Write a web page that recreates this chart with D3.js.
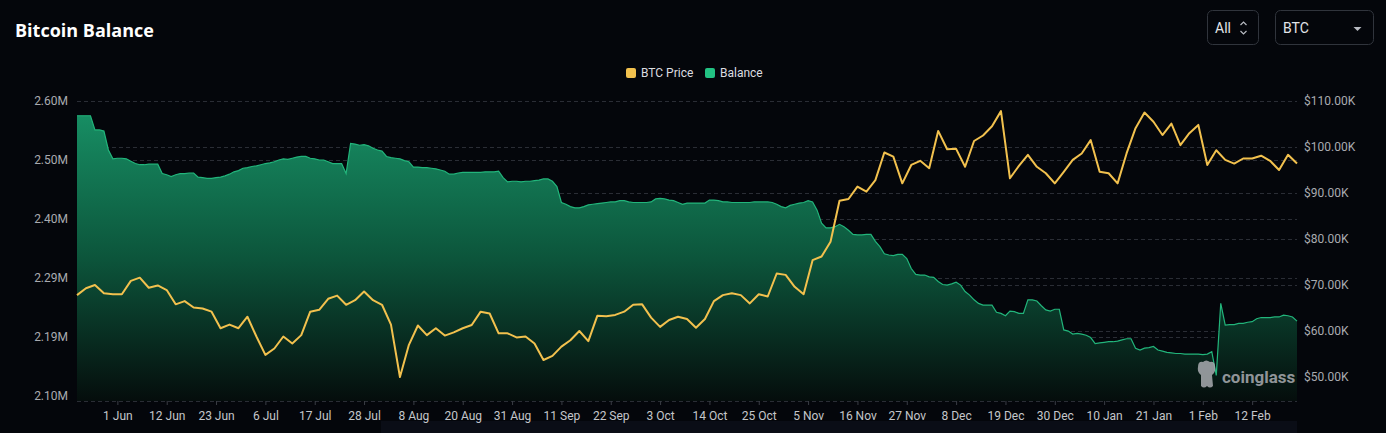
<!DOCTYPE html>
<html>
<head>
<meta charset="utf-8">
<script src="https://cdn.jsdelivr.net/npm/d3@7/dist/d3.min.js"></script>
<style>
  html, body { margin: 0; padding: 0; background: #04060b; }
  svg { display: block; }
</style>
</head>
<body>
<svg id="chart" width="1386" height="433"></svg>
<script>
// category labels on the x axis, one every 11 points, first at point 9
var axisLabels = ['1 Jun', '12 Jun', '23 Jun', '6 Jul', '17 Jul', '28 Jul', '8 Aug', '20 Aug',
  '31 Aug', '11 Sep', '22 Sep', '3 Oct', '14 Oct', '25 Oct', '5 Nov', '16 Nov', '27 Nov',
  '8 Dec', '19 Dec', '30 Dec', '10 Jan', '21 Jan', '1 Feb', '12 Feb'];
var firstLabelPoint = 9;
var labelEvery = 11;

var leftTickLabels = ['2.10M', '2.19M', '2.29M', '2.40M', '2.50M', '2.60M'];
var rightTickValues = [50, 60, 70, 80, 90, 100, 110];

// exchange balance, millions of BTC, one value per point
var balanceValues = [
  2.575, 2.575, 2.575, 2.575, 2.551, 2.551, 2.549, 2.517, 2.502, 2.503,
  2.503, 2.502, 2.498, 2.494, 2.492, 2.492, 2.493, 2.493, 2.493, 2.477,
  2.475, 2.472, 2.475, 2.477, 2.477, 2.478, 2.478, 2.471, 2.470, 2.469,
  2.469, 2.470, 2.471, 2.473, 2.476, 2.480, 2.482, 2.486, 2.487, 2.489,
  2.490, 2.492, 2.494, 2.495, 2.497, 2.500, 2.502, 2.501, 2.503, 2.505,
  2.506, 2.506, 2.503, 2.502, 2.500, 2.500, 2.497, 2.494, 2.494, 2.494,
  2.477, 2.528, 2.527, 2.525, 2.526, 2.524, 2.520, 2.517, 2.515, 2.506,
  2.504, 2.503, 2.502, 2.499, 2.497, 2.488, 2.488, 2.487, 2.487, 2.486,
  2.485, 2.483, 2.481, 2.476, 2.476, 2.478, 2.479, 2.479, 2.479, 2.479,
  2.479, 2.480, 2.480, 2.480, 2.481, 2.470, 2.463, 2.464, 2.464, 2.463,
  2.464, 2.464, 2.465, 2.466, 2.468, 2.468, 2.464, 2.455, 2.428, 2.425,
  2.421, 2.419, 2.419, 2.421, 2.424, 2.425, 2.426, 2.427, 2.428, 2.429,
  2.429, 2.431, 2.431, 2.429, 2.428, 2.428, 2.428, 2.428, 2.429, 2.434,
  2.435, 2.434, 2.432, 2.431, 2.428, 2.425, 2.427, 2.427, 2.427, 2.427,
  2.427, 2.432, 2.432, 2.431, 2.429, 2.429, 2.428, 2.428, 2.428, 2.428,
  2.428, 2.429, 2.429, 2.429, 2.429, 2.428, 2.425, 2.421, 2.419, 2.423,
  2.425, 2.427, 2.428, 2.431, 2.429, 2.415, 2.393, 2.385, 2.385, 2.387,
  2.391, 2.387, 2.381, 2.374, 2.373, 2.373, 2.374, 2.374, 2.362, 2.353,
  2.341, 2.339, 2.338, 2.340, 2.340, 2.333, 2.316, 2.306, 2.305, 2.305,
  2.302, 2.301, 2.294, 2.289, 2.288, 2.290, 2.293, 2.288, 2.277, 2.271,
  2.263, 2.257, 2.254, 2.254, 2.254, 2.242, 2.240, 2.236, 2.244, 2.243,
  2.240, 2.240, 2.263, 2.263, 2.261, 2.253, 2.246, 2.244, 2.247, 2.247,
  2.212, 2.210, 2.205, 2.206, 2.205, 2.203, 2.199, 2.189, 2.190, 2.191,
  2.192, 2.192, 2.193, 2.195, 2.197, 2.197, 2.181, 2.178, 2.181, 2.182,
  2.184, 2.178, 2.176, 2.174, 2.173, 2.172, 2.172, 2.171, 2.171, 2.171,
  2.171, 2.170, 2.171, 2.175, 2.135, 2.257, 2.220, 2.221, 2.221, 2.223,
  2.223, 2.225, 2.226, 2.231, 2.233, 2.233, 2.233, 2.234, 2.234, 2.237,
  2.236, 2.234, 2.227
];

// BTC price, thousands of USD, one value every 2 points
var priceStep = 2;
var priceValues = [
  67.8, 69.3, 70.0, 68.2, 68.0, 68.0, 70.9, 71.6, 69.4, 69.9,
  68.9, 65.8, 66.5, 65.1, 64.9, 64.2, 60.6, 61.4, 60.6, 63.1,
  58.8, 54.8, 56.2, 58.8, 57.3, 59.1, 64.2, 64.6, 67.0, 67.7,
  65.7, 66.7, 68.6, 66.7, 65.7, 61.4, 50.0, 57.0, 61.2, 59.1,
  60.6, 59.0, 59.7, 60.6, 61.3, 64.2, 63.8, 59.5, 59.5, 58.6,
  58.8, 57.3, 53.7, 54.6, 56.6, 58.0, 60.0, 57.8, 63.3, 63.2,
  63.5, 64.2, 65.7, 65.8, 62.9, 60.9, 62.4, 63.1, 62.6, 60.7,
  62.6, 66.5, 67.8, 68.2, 67.8, 66.0, 68.0, 67.5, 72.5, 72.2,
  69.6, 68.0, 75.4, 76.2, 79.4, 88.3, 88.7, 91.4, 90.3, 92.8,
  98.8, 97.9, 92.1, 96.1, 97.0, 95.4, 103.5, 99.5, 99.6, 95.7,
  101.3, 102.5, 104.5, 107.8, 93.2, 95.9, 98.3, 95.7, 94.3, 92.1,
  94.6, 97.2, 98.6, 101.5, 94.6, 94.3, 92.1, 98.6, 104.1, 107.5,
  105.5, 102.6, 105.1, 100.4, 103.0, 104.8, 96.1, 99.3, 97.2, 96.4,
  97.5, 97.5, 98.1, 97.0, 95.0, 98.3, 96.4
];

function drawChart() {
  var svg = d3.select('#chart');
  var left = 77, right = 1297, top = 101, bottom = 401;
  var axisFont = 'Roboto, "Noto Sans", sans-serif';

  var x = d3.scaleLinear().domain([0, balanceValues.length - 1]).range([left, right]);
  var yBalance = d3.scaleLinear().domain([2.10, 2.60]).range([396, top]);
  var yPrice = d3.scaleLinear().domain([50, 110]).range([377, top]);

  var leftTickValues = leftTickLabels.map(function(d, i) { return 2.10 + i * 0.1; });

  var defs = svg.append('defs');
  var grad = defs.append('linearGradient')
    .attr('id', 'balanceFill')
    .attr('x1', 0).attr('y1', 0).attr('x2', 0).attr('y2', 1);
  grad.append('stop').attr('offset', '0%').attr('stop-color', '#178d63');
  grad.append('stop').attr('offset', '50%').attr('stop-color', '#0c553b');
  grad.append('stop').attr('offset', '100%').attr('stop-color', '#050d0c');

  svg.append('rect')
    .attr('x', 381).attr('y', 421).attr('width', 916).attr('height', 12)
    .attr('fill', '#0a0d16');

  // title
  svg.append('text')
    .attr('x', 15).attr('y', 37)
    .attr('font-family', '"Open Sans", "Noto Sans", sans-serif')
    .attr('font-weight', 700)
    .attr('font-size', 18)
    .attr('fill', '#ffffff')
    .text('Bitcoin Balance');

  // the two selectors top right
  function addBox(bx, bw, label) {
    var g = svg.append('g');
    g.append('rect')
      .attr('x', bx + 0.5).attr('y', 10.5).attr('width', bw).attr('height', 34).attr('rx', 5)
      .attr('fill', 'none').attr('stroke', '#30343c');
    g.append('text')
      .attr('x', bx + 8).attr('y', 28)
      .attr('dominant-baseline', 'central')
      .attr('font-family', axisFont).attr('font-size', 14)
      .attr('fill', '#e2e4e8')
      .text(label);
    return g;
  }
  addBox(1207, 51, 'All').append('path')
    .attr('d', 'M1240.5,25 L1243.5,22 L1246.5,25 M1240.5,31 L1243.5,34 L1246.5,31')
    .attr('fill', 'none').attr('stroke', '#b8bbc2').attr('stroke-width', 1.2);
  addBox(1275, 98, 'BTC').append('path')
    .attr('d', 'M1353.5,27 L1361.5,27 L1357.5,31 Z')
    .attr('fill', '#b8bbc2');

  // legend
  var legend = [
    { name: 'BTC Price', color: '#f2c14e', x: 626 },
    { name: 'Balance', color: '#22c283', x: 705 }
  ];
  var lg = svg.selectAll('g.legend').data(legend).enter().append('g').attr('class', 'legend');
  lg.append('rect')
    .attr('x', function(d) { return d.x; }).attr('y', 68)
    .attr('width', 10).attr('height', 10).attr('rx', 2)
    .attr('fill', function(d) { return d.color; });
  lg.append('text')
    .attr('x', function(d) { return d.x + 15; }).attr('y', 73)
    .attr('dominant-baseline', 'central')
    .attr('font-family', axisFont).attr('font-size', 12)
    .attr('fill', '#dcdde0')
    .text(function(d) { return d.name; });

  // grid lines for both value axes
  var grid = svg.append('g')
    .attr('stroke', '#2a2d35').attr('stroke-dasharray', '4,3');
  var gridYs = leftTickValues.map(yBalance)
    .concat(rightTickValues.map(yPrice))
    .concat([bottom]);
  grid.selectAll('line').data(gridYs).enter().append('line')
    .attr('x1', left).attr('x2', right)
    .attr('y1', function(d) { return d + 0.5; })
    .attr('y2', function(d) { return d + 0.5; });

  // balance area and line
  var area = d3.area()
    .x(function(d, i) { return x(i); })
    .y0(bottom)
    .y1(function(d) { return yBalance(d); });
  var balanceLine = d3.line()
    .x(function(d, i) { return x(i); })
    .y(function(d) { return yBalance(d); });

  svg.append('path').datum(balanceValues)
    .attr('d', area)
    .attr('fill', 'url(#balanceFill)');
  svg.append('path').datum(balanceValues)
    .attr('d', balanceLine)
    .attr('fill', 'none').attr('stroke', '#22b57b').attr('stroke-width', 1.2);

  // watermark
  var wm = svg.append('g').attr('fill', '#a9abb0').attr('opacity', 0.85);
  wm.append('path')
    .attr('d', 'M1198,367 Q1198,361 1203,362 Q1206,359 1210,362 Q1215,361 1215,367 ' +
      'Q1216,372 1212,375 L1213,386 Q1210,389 1207,386 Q1204,389 1201,386 L1201,375 Q1197,372 1198,367 Z');
  wm.append('text')
    .attr('x', 1222).attr('y', 377)
    .attr('dominant-baseline', 'central')
    .attr('font-family', axisFont).attr('font-weight', 700).attr('font-size', 17)
    .text('coinglass');

  // price line
  var priceLine = d3.line()
    .x(function(d, i) { return x(i * priceStep); })
    .y(function(d) { return yPrice(d); });
  svg.append('path').datum(priceValues)
    .attr('d', priceLine)
    .attr('fill', 'none').attr('stroke', '#f2c14e').attr('stroke-width', 2)
    .attr('stroke-linejoin', 'round');

  // axes
  var xAxis = d3.axisBottom(x)
    .tickValues(axisLabels.map(function(d, i) { return firstLabelPoint + i * labelEvery; }))
    .tickFormat(function(d, i) { return axisLabels[i]; })
    .tickSize(4)
    .tickPadding(6);
  var gx = svg.append('g').attr('transform', 'translate(0,' + bottom + ')').call(xAxis);
  gx.select('.domain').remove();
  gx.selectAll('line').attr('stroke', '#3a3d45');
  gx.selectAll('text').attr('fill', '#c4c6ca').attr('font-family', axisFont).attr('font-size', 12);

  var leftAxis = d3.axisLeft(yBalance)
    .tickValues(leftTickValues)
    .tickFormat(function(d, i) { return leftTickLabels[i]; })
    .tickSize(0).tickPadding(9);
  var gl = svg.append('g').attr('transform', 'translate(' + left + ',0)').call(leftAxis);
  gl.select('.domain').remove();
  gl.selectAll('text').attr('fill', '#a9abb0').attr('font-family', axisFont).attr('font-size', 12);

  var rightAxis = d3.axisRight(yPrice)
    .tickValues(rightTickValues)
    .tickFormat(function(d) { return '$' + d.toFixed(2) + 'K'; })
    .tickSize(0).tickPadding(7);
  var gr = svg.append('g').attr('transform', 'translate(' + right + ',0)').call(rightAxis);
  gr.select('.domain').remove();
  gr.selectAll('text').attr('fill', '#a9abb0').attr('font-family', axisFont).attr('font-size', 12);
}

drawChart();
</script>
</body>
</html>
